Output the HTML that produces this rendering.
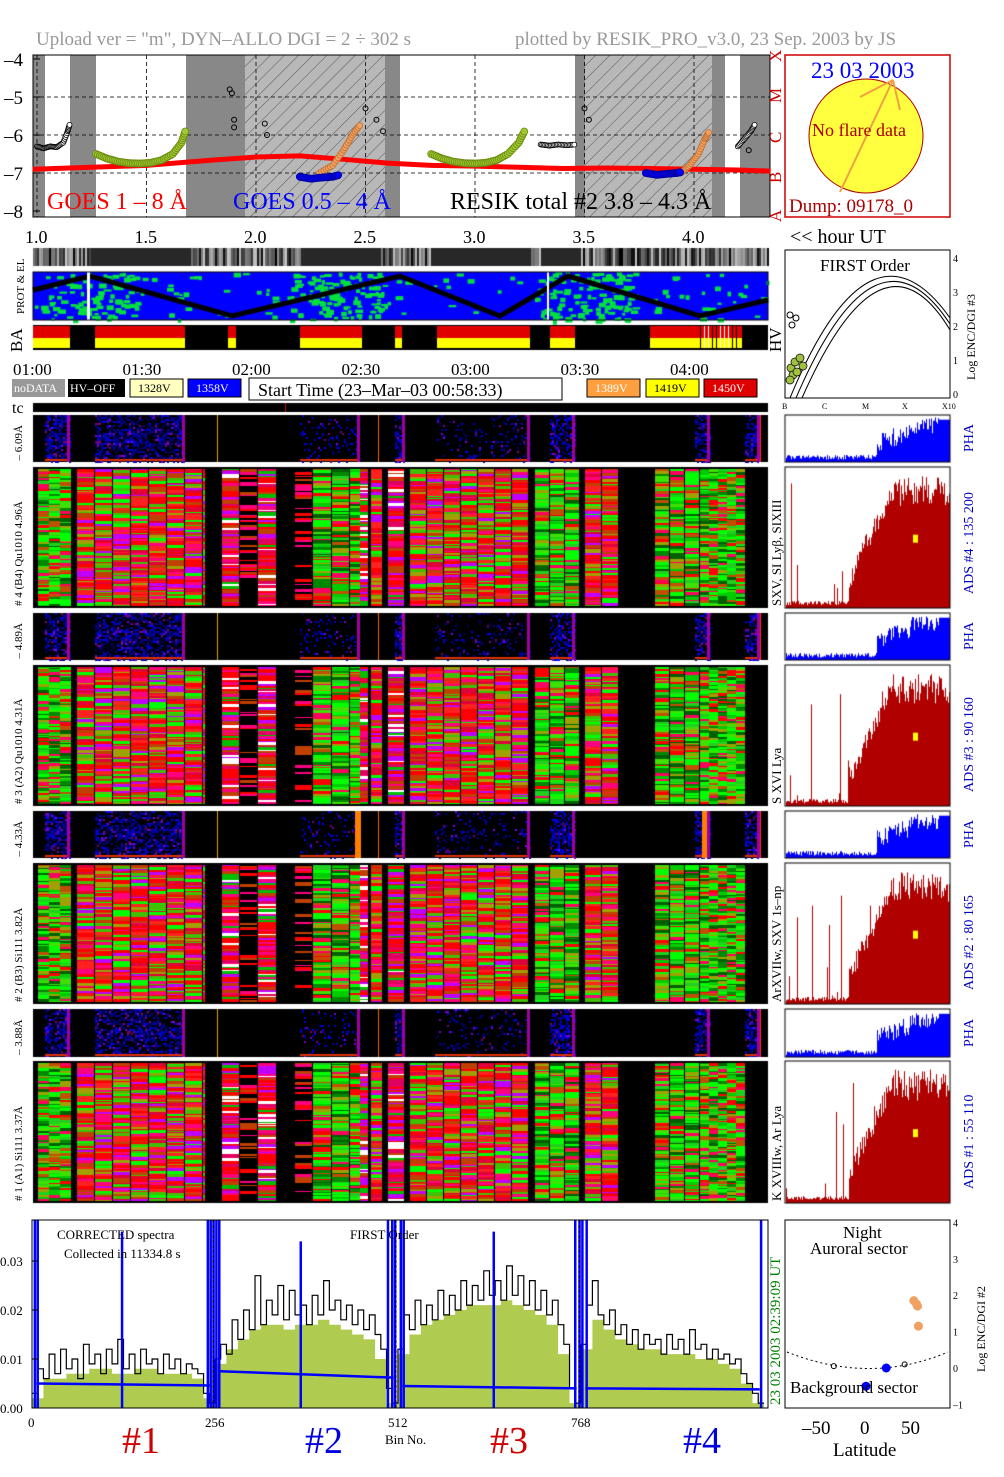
<!DOCTYPE html>
<html><head><meta charset="utf-8"><style>
html,body{margin:0;padding:0;background:#fff}
#wrap{position:relative;width:1004px;height:1477px;overflow:hidden}
canvas,svg{position:absolute;left:0;top:0}
text{font-family:"Liberation Serif",serif}
</style></head><body>
<div id="wrap">
<canvas id="cv" width="1004" height="1477"></canvas>
<svg id="sv" width="1004" height="1477" xmlns="http://www.w3.org/2000/svg">
<defs><pattern id="hatch" width="10" height="10" patternUnits="userSpaceOnUse" patternTransform="rotate(45)"><rect width="10" height="10" fill="#b8b8b8"/><line x1="0" y1="0" x2="0" y2="10" stroke="#555" stroke-width="1"/></pattern></defs>
<text x="36" y="45" font-size="19" fill="#999">Upload ver = "m", DYN–ALLO DGI =   2 ÷ 302 s</text>
<text x="515" y="45" font-size="19" fill="#999">plotted by RESIK_PRO_v3.0, 23 Sep. 2003 by JS</text>
<g id="goes"></g>
<g id="sun">
<rect x="785" y="55" width="165" height="162" fill="#fff" stroke="#c00" stroke-width="1.5"/>
<circle cx="866" cy="136" r="57" fill="#ffff40" stroke="#a00" stroke-width="1"/>
<line x1="840" y1="192" x2="893" y2="80" stroke="#f0a040" stroke-width="2"/>
<line x1="893" y1="80" x2="900" y2="110" stroke="#f0a040" stroke-width="2"/>
<line x1="860" y1="97" x2="893" y2="80" stroke="#f0a040" stroke-width="2"/>
<text x="811" y="78" font-size="23" fill="#00f">23 03 2003</text>
<text x="812" y="136" font-size="18" fill="#a00">No flare data</text>
<text x="789" y="212" font-size="19" fill="#a00">Dump: 09178_0</text>
</g>
<g id="letters" fill="#c00" font-size="17">
<text transform="translate(781,62) rotate(-90)">X</text><text transform="translate(781,103) rotate(-90)">M</text><text transform="translate(781,143) rotate(-90)">C</text><text transform="translate(781,183) rotate(-90)">B</text><text transform="translate(781,222) rotate(-90)">A</text>
</g>
<g id="hrs" font-size="18"></g>
<text x="790" y="243" font-size="20">&lt;&lt; hour UT</text>
<text transform="translate(24,314) rotate(-90)" font-size="11">PROT &amp; EL</text>
<text transform="translate(22,352) rotate(-90)" font-size="17">BA</text>
<g id="times" font-size="17"></g>
<g id="legend" font-size="12">
<rect x="12" y="379" width="53" height="18" fill="#999"/><text x="14" y="392" fill="#fff">noDATA</text>
<rect x="68" y="379" width="57" height="18" fill="#000"/><text x="70" y="392" fill="#fff">HV–OFF</text>
<rect x="130" y="379" width="53" height="18" fill="#ffffc0" stroke="#000"/><text x="138" y="392">1328V</text>
<rect x="188" y="379" width="53" height="18" fill="#0000ff" stroke="#000"/><text x="196" y="392" fill="#fff">1358V</text>
<rect x="249" y="378" width="313" height="22" fill="#fff" stroke="#000"/><text x="258" y="396" font-size="18">Start Time (23–Mar–03 00:58:33)</text>
<rect x="587" y="379" width="53" height="18" fill="#ffa040" stroke="#000"/><text x="595" y="392" fill="#fff">1389V</text>
<rect x="646" y="379" width="53" height="18" fill="#ffff00" stroke="#000"/><text x="654" y="392">1419V</text>
<rect x="704" y="379" width="53" height="18" fill="#e00000" stroke="#000"/><text x="712" y="392" fill="#fff">1450V</text>
</g>
<text x="12" y="413" font-size="16">tc</text>
<g id="plabels" font-size="11"></g>
<g id="first"></g>
<g id="spec"></g>
<g id="lat"></g>
<g font-size="38">
<text x="122" y="1453" fill="#d00000">#1</text><text x="305" y="1453" fill="#0000e0">#2</text><text x="490" y="1453" fill="#d00000">#3</text><text x="683" y="1453" fill="#0000e0">#4</text>
</g>
<text x="385" y="1444" font-size="13">Bin No.</text>
</svg>
</div>
<script>
// ---------- data ----------
const goesHours=[0.98,1.2,1.5,1.8,2.0,2.2,2.4,2.6,2.8,3.0,3.2,3.4,3.6,3.8,4.0,4.2,4.35];
const goesLong=[-6.9,-6.86,-6.8,-6.66,-6.58,-6.55,-6.64,-6.74,-6.8,-6.82,-6.85,-6.88,-6.87,-6.88,-6.9,-6.92,-6.95];
const greenH1=[1.27,1.32,1.37,1.42,1.47,1.52,1.57,1.62,1.66,1.68];
const greenV1=[-6.5,-6.62,-6.7,-6.74,-6.75,-6.73,-6.66,-6.5,-6.2,-5.85];
const greenH2=[2.8,2.85,2.9,2.95,3.0,3.05,3.1,3.15,3.2,3.23];
const greenV2=[-6.5,-6.62,-6.7,-6.74,-6.75,-6.73,-6.66,-6.5,-6.2,-5.85];
const orangeH1=[2.29,2.35,2.4,2.44,2.48]; const orangeV1=[-7.0,-6.8,-6.4,-6.0,-5.7];
const orangeH2=[3.94,3.98,4.02,4.05,4.07]; const orangeV2=[-7.0,-6.8,-6.5,-6.1,-5.9];
const blueH1=[2.2,2.25,2.3,2.35,2.38]; const blueV1=[-7.1,-7.15,-7.12,-7.1,-7.05];
const blueH2=[3.78,3.83,3.88,3.92,3.94]; const blueV2=[-7.0,-7.05,-7.02,-7.0,-6.98];
const blackH=[1.0,1.03,1.06,1.09,1.12,1.14,1.15,3.3,3.34,3.38,3.42,3.46,4.2,4.23,4.26,4.28];
const blackV=[-6.3,-6.35,-6.3,-6.32,-6.2,-5.9,-5.7,-6.25,-6.28,-6.25,-6.27,-6.25,-6.3,-6.1,-5.9,-5.7];
const scatH=[1.88,1.89,1.9,1.9,2.04,2.05,2.5,2.55,2.58,3.5,3.52,4.25];
const scatV=[-4.8,-4.9,-5.6,-5.8,-5.7,-6.0,-5.3,-5.6,-5.9,-5.3,-5.6,-6.4];
const hourTicks=["1.0","1.5","2.0","2.5","3.0","3.5","4.0"];
const timeTicks=["01:00","01:30","02:00","02:30","03:00","03:30","04:00"];
const specBlack=[
0.003,0.008,0.006,0.011,0.007,0.012,0.008,0.010,0.006,0.013,0.009,0.011,0.007,0.012,0.009,0.014,0.008,0.011,0.007,0.012,0.009,0.010,0.007,0.011,0.008,0.010,0.007,0.009,0.008,0.007,0.003,0.001,
0.010,0.013,0.011,0.018,0.014,0.020,0.016,0.027,0.017,0.022,0.019,0.025,0.018,0.024,0.019,0.021,0.017,0.023,0.019,0.026,0.020,0.022,0.018,0.021,0.017,0.020,0.016,0.019,0.015,0.012,0.004,0.001,
0.012,0.019,0.016,0.022,0.017,0.021,0.018,0.024,0.019,0.023,0.020,0.026,0.021,0.025,0.022,0.028,0.023,0.026,0.022,0.029,0.023,0.027,0.021,0.026,0.020,0.024,0.019,0.022,0.017,0.013,0.004,0.001,
0.013,0.021,0.026,0.019,0.017,0.020,0.015,0.017,0.013,0.016,0.012,0.015,0.013,0.014,0.011,0.015,0.012,0.014,0.011,0.016,0.012,0.013,0.010,0.012,0.010,0.011,0.009,0.010,0.007,0.005,0.003,0.001];
const specGreen=[
0.002,0.006,0.006,0.007,0.007,0.008,0.008,0.007,0.007,0.008,0.008,0.007,0.007,0.007,0.006,0.002,
0.009,0.012,0.014,0.016,0.017,0.017,0.016,0.017,0.017,0.018,0.017,0.016,0.015,0.014,0.010,0.001,
0.011,0.015,0.017,0.018,0.019,0.020,0.021,0.021,0.021,0.022,0.021,0.020,0.019,0.017,0.011,0.001,
0.012,0.018,0.016,0.014,0.013,0.012,0.012,0.011,0.011,0.011,0.010,0.010,0.009,0.008,0.005,0.001];
const blueBase=[0.005,0.0046,0.0075,0.0062,0.0045,0.004,0.004,0.0038];
const blueSpikeBins=[4,8,126,246,250,254,258,262,376,498,504,508,516,520,646,760,766,770,776,1020];
const blueSpikeVals=[0.04,0.04,0.036,0.04,0.04,0.04,0.04,0.04,0.034,0.04,0.04,0.04,0.04,0.04,0.036,0.04,0.04,0.04,0.04,0.04];
const specYTicks=["0.00","0.01","0.02","0.03"];
const binTicks=["0","256","512","768"];
const latOrangeLat=[52,55,56,57]; const latOrangeLog=[1.85,1.75,1.7,1.15];
const latBlueLat=[22,0]; const latBlueLog=[0.0,-0.5];
const latTicks=["-50","0","50"];

const NS="http://www.w3.org/2000/svg";
function mk(parent,tag,attrs,txt){const e=document.createElementNS(NS,tag);for(const k in attrs)e.setAttribute(k,attrs[k]);if(txt!==undefined)e.textContent=txt;parent.appendChild(e);return e;}
function hsh(i){const x=Math.sin(i*12.9898+78.233)*43758.5453;return x-Math.floor(x);}

// ---------- GOES panel ----------
const gx=h=>37+(h-1)*219;
function gyy(v){return 59+(-4-v)*38;}
const G=document.getElementById('goes');
mk(G,'rect',{x:33,y:55,width:737,height:162,fill:'#fff'});
[[33,45],[70,96],[186,245],[385,400],[575,585],[712,725],[740,770]].forEach(b=>mk(G,'rect',{x:b[0],y:55,width:b[1]-b[0],height:162,fill:'#888'}));
[[245,385],[585,712]].forEach(b=>mk(G,'rect',{x:b[0],y:55,width:b[1]-b[0],height:162,fill:'url(#hatch)'}));
for(let i=0;i<hourTicks.length;i++){const x=gx(1+i*0.5);mk(G,'line',{x1:x,y1:55,x2:x,y2:217,stroke:'#000','stroke-dasharray':'4,3','stroke-width':0.8});}
for(let v=-5;v>=-7;v--)mk(G,'line',{x1:33,y1:gyy(v),x2:770,y2:gyy(v),stroke:'#000','stroke-dasharray':'4,3','stroke-width':0.8});
mk(G,'rect',{x:33,y:55,width:737,height:162,fill:'none',stroke:'#000'});
for(let v=-4;v>=-8;v--){mk(G,'text',{x:4,y:gyy(v)+7,'font-size':19},String(v).replace('-','–'));mk(G,'line',{x1:33,y1:gyy(v),x2:40,y2:gyy(v),stroke:'#000'});}
function poly(hs,vs,col,w){mk(G,'polyline',{points:hs.map((h,i)=>gx(h)+','+gyy(vs[i])).join(' '),fill:'none',stroke:col,'stroke-width':w,'stroke-linejoin':'round'});}
function dots(hs,vs,col,r,fill){hs.forEach((h,i)=>mk(G,'circle',{cx:gx(h),cy:gyy(vs[i]),r:r,fill:fill,stroke:col,'stroke-width':1}));}
function densePts(hs,vs,col,fill,r){for(let i=0;i<hs.length-1;i++){for(let k=0;k<6;k++){const t=k/6;const h=hs[i]+(hs[i+1]-hs[i])*t,v=vs[i]+(vs[i+1]-vs[i])*t;mk(G,'circle',{cx:gx(h),cy:gyy(v),r:r,fill:fill,stroke:col,'stroke-width':0.8});}}}
poly(goesHours,goesLong,'#ff0000',5);
densePts(greenH1,greenV1,'#6a8a10','#a0c830',3.5);densePts(greenH2,greenV2,'#6a8a10','#a0c830',3.5);
densePts(orangeH1,orangeV1,'#c07030','#f0a060',3);densePts(orangeH2,orangeV2,'#c07030','#f0a060',3);
densePts(blueH1,blueV1,'#0000a0','#0000ff',3.5);densePts(blueH2,blueV2,'#0000a0','#0000ff',3.5);
densePts(blackH.slice(0,7),blackV.slice(0,7),'#000','#fff',2.5);densePts(blackH.slice(7,12),blackV.slice(7,12),'#000','#fff',2.5);densePts(blackH.slice(12),blackV.slice(12),'#000','#fff',2.5);
dots(scatH,scatV,'#000',2.5,'none');
mk(G,'text',{x:47,y:209,'font-size':24,fill:'#ff0000'},'GOES 1 – 8 Å');
mk(G,'text',{x:233,y:209,'font-size':24,fill:'#0000ff'},'GOES 0.5 – 4 Å');
mk(G,'text',{x:450,y:209,'font-size':24,fill:'#000'},'RESIK total #2  3.8 – 4.3 Å');
const HR=document.getElementById('hrs');
hourTicks.forEach((t,i)=>mk(HR,'text',{x:gx(1+i*0.5)-12,y:243},t));
const TM=document.getElementById('times');
timeTicks.forEach((t,i)=>mk(TM,'text',{x:gx(1+i*0.5)-24,y:375},t));

// ---------- panel labels ----------
const PL=document.getElementById('plabels');
const pha=[[415,462],[613,660],[811,858],[1009,1057]], ads=[[467,608],[665,806],[863,1004],[1061,1203]];
const leftPha=["– 6.09Å","– 4.89Å","– 4.33Å","– 3.88Å"];
const leftAds=["# 4 (B4) Qu1010 4.96Å","# 3 (A2) Qu1010 4.31Å","# 2 (B3) Si111 3.82Å","# 1 (A1) Si111 3.37Å"];
const rightLines=["SXV, SI Lyβ, SIXIII","S XVI Lya","ArXVIIw, SXV 1s–np","K XVIIIw, Ar Lya"];
const adsNums=["ADS #4 :   135 200","ADS #3 :   90 160","ADS #2 :   80 165","ADS #1 :   55 110"];
for(let k=0;k<4;k++){
 mk(PL,'text',{transform:`translate(22,${(pha[k][0]+pha[k][1])/2+22}) rotate(-90)`},leftPha[k]);
 mk(PL,'text',{transform:`translate(22,${ads[k][1]-2}) rotate(-90)`},leftAds[k]);
 mk(PL,'text',{transform:`translate(781,${ads[k][1]-2}) rotate(-90)`,'font-size':13},rightLines[k]);
 mk(PL,'text',{transform:`translate(973,${pha[k][1]-10}) rotate(-90)`,'font-size':14,fill:'#0000c0'},'PHA');
 mk(PL,'text',{transform:`translate(973,${ads[k][1]-14}) rotate(-90)`,'font-size':14,fill:'#0000c0'},adsNums[k]);
}

// ---------- FIRST order ----------
const F=document.getElementById('first');
mk(F,'rect',{x:785,y:250,width:165,height:148,fill:'#fff',stroke:'#000'});
mk(F,'text',{x:820,y:271,'font-size':17},'FIRST Order');
[0,6,12].forEach(o=>mk(F,'path',{d:`M ${790+o} 398 Q ${870+o} ${205+o} ${950} ${318+o}`,fill:'none',stroke:'#000'}));
[[791,368],[795,362],[793,375],[800,358],[790,380],[797,372],[803,366]].forEach(p=>mk(F,'circle',{cx:p[0],cy:p[1],r:4,fill:'#a0c040',stroke:'#000','stroke-width':0.7}));
[[790,315],[796,318],[792,325]].forEach(p=>mk(F,'circle',{cx:p[0],cy:p[1],r:3,fill:'none',stroke:'#000'}));
['B','C','M','X','X10'].forEach((t,i)=>mk(F,'text',{x:782+i*40,y:409,'font-size':8},t));
['0','1','2','3','4'].forEach((t,i)=>mk(F,'text',{x:953,y:398-i*34,'font-size':10},t));
mk(F,'text',{transform:'translate(975,380) rotate(-90)','font-size':12},'Log ENC/DGI #3');
mk(F,'text',{transform:'translate(781,352) rotate(-90)','font-size':17},'HV');

// ---------- spectrum ----------
const S=document.getElementById('spec');
const sx=b=>32+b*0.7148, sy=v=>1408-v*4900;
mk(S,'rect',{x:32,y:1220,width:736,height:188,fill:'#fff'});
let gp=`M ${sx(0)} ${sy(0)}`;specGreen.forEach((v,i)=>{gp+=` L ${sx(i*16)} ${sy(v)} L ${sx(i*16+16)} ${sy(v)}`;});gp+=` L ${sx(1024)} ${sy(0)} Z`;
mk(S,'path',{d:gp,fill:'#b0cc50',stroke:'none'});
let bp='';specBlack.forEach((v,i)=>{bp+=(i?' L ':'M ')+sx(i*8)+' '+sy(v)+' L '+sx(i*8+8)+' '+sy(v);});
mk(S,'path',{d:bp,fill:'none',stroke:'#000','stroke-width':1.2});
for(let s=0;s<4;s++){mk(S,'line',{x1:sx(s*256+6),y1:sy(blueBase[2*s]),x2:sx(s*256+250),y2:sy(blueBase[2*s+1]),stroke:'#0000ff','stroke-width':2.5});}
blueSpikeBins.forEach((b,i)=>mk(S,'line',{x1:sx(b),y1:sy(0),x2:sx(b),y2:Math.max(1220,sy(blueSpikeVals[i])),stroke:'#0000ff','stroke-width':2.5}));
[256,512,768].forEach(b=>{mk(S,'line',{x1:sx(b)-2,y1:1220,x2:sx(b)-2,y2:1408,stroke:'#000','stroke-dasharray':'3,2'});});
mk(S,'rect',{x:32,y:1220,width:736,height:188,fill:'none',stroke:'#000'});
specYTicks.forEach((t,i)=>{mk(S,'text',{x:0,y:sy(i*0.01)+5,'font-size':13},t);mk(S,'line',{x1:32,y1:sy(i*0.01),x2:38,y2:sy(i*0.01),stroke:'#000'});});
binTicks.forEach((t,i)=>mk(S,'text',{x:sx(i*256)-(i?10:4),y:1427,'font-size':13},t));
mk(S,'text',{x:57,y:1239,'font-size':13},'CORRECTED spectra');
mk(S,'text',{x:64,y:1258,'font-size':13},'Collected in 11334.8 s');
mk(S,'text',{x:350,y:1239,'font-size':13},'FIRST Order');
mk(S,'text',{transform:'translate(780,1405) rotate(-90)','font-size':15,fill:'#008000'},'23 03 2003    02:39:09 UT');

// ---------- latitude ----------
const L=document.getElementById('lat');
const lx=a=>866+a*0.92, ly=v=>1368-v*36.4;
mk(L,'rect',{x:785,y:1220,width:165,height:188,fill:'#fff',stroke:'#000'});
mk(L,'path',{d:`M 787 1352 Q ${lx(5)} 1385 948 1352`,fill:'none',stroke:'#000','stroke-dasharray':'2,3'});
latOrangeLat.forEach((a,i)=>mk(L,'circle',{cx:lx(a),cy:ly(latOrangeLog[i]),r:4.5,fill:'#f0a060'}));
latBlueLat.forEach((a,i)=>mk(L,'circle',{cx:lx(a),cy:ly(latBlueLog[i]),r:4.5,fill:'#0000ff'}));
[[-35,0.05],[42,0.1]].forEach(p=>mk(L,'circle',{cx:lx(p[0]),cy:ly(p[1]),r:2.5,fill:'none',stroke:'#000'}));
mk(L,'text',{x:843,y:1238,'font-size':17},'Night');
mk(L,'text',{x:810,y:1254,'font-size':17},'Auroral sector');
mk(L,'text',{x:790,y:1393,'font-size':17},'Background sector');
latTicks.forEach((t,i)=>mk(L,'text',{x:lx(-50+i*50)-(i==0?18:i==1?6:11),y:1434,'font-size':19},t.replace('-','–')));
mk(L,'text',{x:833,y:1456,'font-size':19},'Latitude');
['–1','0','1','2','3','4'].forEach((t,i)=>mk(L,'text',{x:953,y:ly(i-1)+4,'font-size':10},t));
mk(L,'text',{transform:'translate(985,1372) rotate(-90)','font-size':12},'Log ENC/DGI #2');

// ---------- canvas textures ----------
const c=document.getElementById('cv').getContext('2d');
let seed=1;function rnd(){seed++;return hsh(seed);}
for(let x=33;x<768;x+=2){const g=(x>90&&x<190)||(x>300&&x<380)||(x>430&&x<530)||(x>540&&x<580)?40:Math.floor(rnd()*200);c.fillStyle=`rgb(${g},${g},${g})`;c.fillRect(x,248,2,18);}
c.fillStyle='#0000ff';c.fillRect(33,272,735,48);
c.fillStyle='#00e040';
for(let i=0;i<900;i++){const x=33+rnd()*735,y=272+rnd()*48;const band=Math.sin((x-33)/735*Math.PI*6);if(band>0.3||rnd()<0.15)c.fillRect(x,y,3+rnd()*5,2+rnd()*3);}
c.strokeStyle='#000';c.lineWidth=5;c.beginPath();c.moveTo(33,290);c.lineTo(90,276);c.lineTo(232,316);c.lineTo(400,276);c.lineTo(500,316);c.lineTo(568,276);c.lineTo(700,316);c.lineTo(768,300);c.stroke();
c.fillStyle='#fff';c.fillRect(87,272,3,48);c.fillRect(547,272,2,48);
c.strokeStyle='#000';c.lineWidth=1;c.strokeRect(33,272,735,48);
c.fillStyle='#000';c.fillRect(33,325,735,25);
[[33,70],[95,185],[228,236],[300,362],[395,402],[437,530],[550,575],[650,742]].forEach(b=>{c.fillStyle='#e00000';c.fillRect(b[0],326,b[1]-b[0],12);c.fillStyle='#ffff00';c.fillRect(b[0],338,b[1]-b[0],10);});
for(let x=700;x<740;x+=4){c.fillStyle=rnd()<0.5?'#fff':'#000';c.fillRect(x,326,1,22);}
c.fillStyle='#000';c.fillRect(33,403,735,9);c.fillStyle='#c00';c.fillRect(285,403,1,9);
const phaReg=[[45,70,1],[95,185,0.9],[300,360,0.25],[395,405,1],[435,530,0.25],[550,575,1],[695,710,1],[745,760,1]];
pha.forEach((p,k)=>{c.fillStyle='#000';c.fillRect(33,p[0],735,p[1]-p[0]);
 phaReg.forEach(r=>{for(let x=r[0];x<r[1];x+=2)for(let y=p[0];y<p[1];y+=2){let d=r[2]*(0.5+0.5*(Math.abs(y-(p[0]+p[1])/2)<6?1:0.4));if(rnd()<d*0.7){const b=80+Math.floor(rnd()*175);c.fillStyle=`rgb(${rnd()<0.15?120:0},0,${b})`;c.fillRect(x,y,2,2);}}
  c.fillStyle='#e03000';c.fillRect(r[0],p[1]-3,r[1]-r[0],2);
  c.fillStyle='#a000a0';c.fillRect(r[1]-3,p[0],3,p[1]-p[0]);});
 [[217,'#e0a000'],[378,'#ff6000'],[760,'#ff3000']].forEach(l=>{c.fillStyle=l[1];c.fillRect(l[0],p[0],1,p[1]-p[0]);});
 if(k==2){c.fillStyle='#ff8000';c.fillRect(355,p[0],6,p[1]-p[0]);c.fillRect(702,p[0],5,p[1]-p[0]);}
});
const pal={g:['#00ff00','#00cc00','#008800','#40e000','#ff0000','#a0a000','#c05000','#006000','#ff0060','#00ff00','#20d020'],
r:['#ff0000','#e0003a','#ff2020','#00ff00','#40c000','#c000ff','#a0a000','#ff0080','#c04000','#ff0000'],
m:['#ff0080','#ff0000','#c000ff','#e00060','#00c000','#ffffff','#c04000','#ff0000'],
s:['#c04000','#ff0000','#ff0080']};
const blocks=[[38,71,11,'g'],[77,206,18,'r'],[222,240,18,'m'],[240,258,18,'s'],[258,277,19,'m'],[295,313,18,'s'],[313,332,19,'g'],[332,350,18,'g'],[350,360,10,'g'],[360,368,8,'m'],[371,382,11,'r'],[388,405,17,'m'],[410,530,17,'r'],[535,580,15,'g'],[585,620,17,'r'],[655,700,15,'g'],[700,745,9,'g']];
ads.forEach(p=>{c.fillStyle='#000';c.fillRect(33,p[0],735,p[1]-p[0]);
 blocks.forEach(b=>{for(let x=b[0];x<b[1];x+=b[2]){const w=Math.min(b[2],b[1]-x)-(b[2]>12?1:0);let y=p[0]+2;
  while(y<p[1]-2){const h=1+Math.floor(rnd()*3);const P=pal[b[3]];if(b[3]=='s'&&rnd()<0.65){y+=h;continue;}
   c.fillStyle=P[Math.floor(rnd()*P.length)];c.fillRect(x,y,w,Math.min(h,p[1]-2-y));y+=h;}}});
});
pha.forEach(p=>{const H=p[1]-p[0];c.fillStyle='#fff';c.fillRect(785,p[0],165,H);
 c.fillStyle='#0000ff';for(let x=786;x<950;x++){const t=(x-786)/164;let f=0.05+0.1*rnd();if(t>0.55)f=0.2+0.4*rnd()+ (t-0.55)*1.2;if(t>0.75)f=0.6+0.35*rnd();if(t>0.93)f=0.9;f=Math.min(f,0.98);c.fillRect(x,p[1]-f*H,1,f*H);}
 c.strokeStyle='#000';c.strokeRect(785,p[0],165,H);});
ads.forEach(p=>{const H=p[1]-p[0];c.fillStyle='#fff';c.fillRect(785,p[0],165,H);
 c.fillStyle='#b00000';for(let x=786;x<950;x++){const t=(x-786)/164;let f=0.02+0.03*rnd();if(rnd()<0.07)f+=0.3*rnd();
  if(t>0.38)f=0.12+(t-0.38)*2.4+0.15*rnd();if(t>0.65)f=0.72+0.22*rnd();if(rnd()<0.04)f=Math.max(f,0.5+0.4*rnd());f=Math.min(f,0.97);c.fillRect(x,p[1]-f*H,1,f*H);}
 c.fillStyle='#ffff00';c.fillRect(913,p[0]+H*0.48,5,8);
 c.strokeStyle='#000';c.strokeRect(785,p[0],165,H);});
</script>
</body></html>
